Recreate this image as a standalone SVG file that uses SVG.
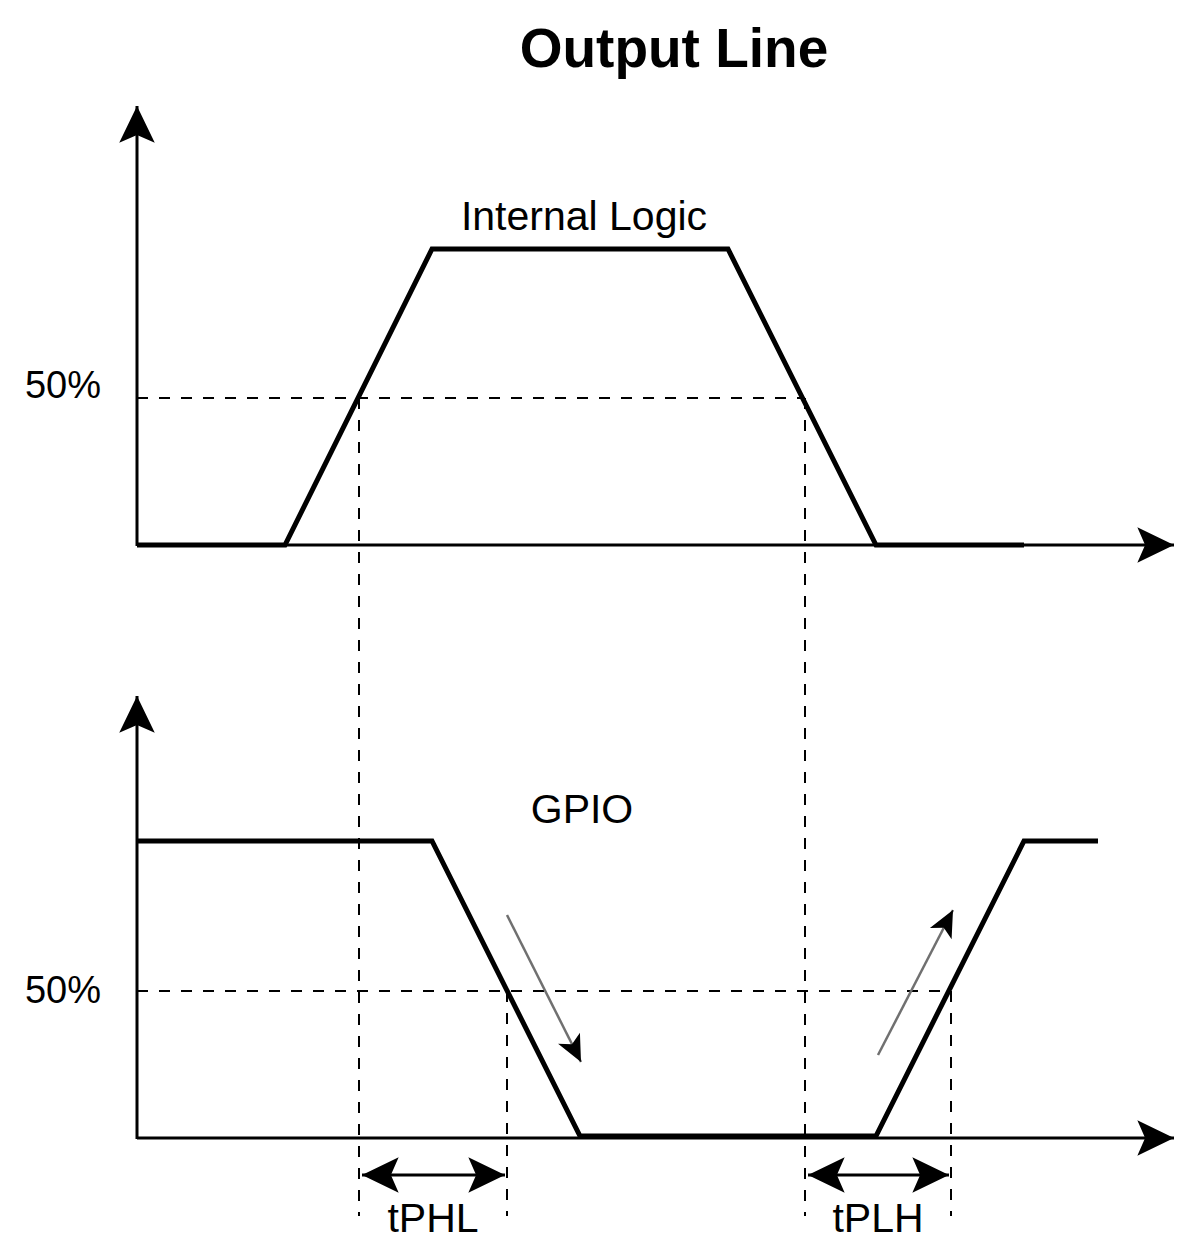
<svg xmlns="http://www.w3.org/2000/svg" width="1204" height="1260" viewBox="0 0 1204 1260">
<style>
.axis{stroke:#000;stroke-width:3;fill:none}
.wave{stroke:#000;stroke-width:5;fill:none;stroke-linejoin:miter}
.dash{stroke:#000;stroke-width:2;fill:none;stroke-dasharray:11 11}
.hint{stroke:#707070;stroke-width:2.5;fill:none}
.lbl{font-family:"Liberation Sans",Arial,sans-serif;fill:#000}
</style>
<defs>
<marker id="big" markerUnits="userSpaceOnUse" markerWidth="40" markerHeight="40" viewBox="-34 -17 36 34" refX="0" refY="0" orient="auto-start-reverse">
<path d="M0,0 L-33,-16 L-26,0 L-33,16 Z" fill="#000"/>
</marker>
<marker id="small" markerUnits="userSpaceOnUse" markerWidth="30" markerHeight="30" viewBox="-25 -13 27 26" refX="0" refY="0" orient="auto">
<path d="M0,0 L-24,-11 L-18,0 L-24,11 Z" fill="#000"/>
</marker>
</defs>
<g id="title"><text class="lbl" x="674" y="67" font-size="55" font-weight="bold" text-anchor="middle">Output Line</text></g>
<g id="connectors">
<line class="axis" x1="137" y1="546" x2="137" y2="106" marker-end="url(#big)"/>
<line class="axis" x1="137" y1="545" x2="1174" y2="545" marker-end="url(#big)"/>
<line class="axis" x1="137" y1="1139" x2="137" y2="696" marker-end="url(#big)"/>
<line class="axis" x1="137" y1="1138" x2="1174" y2="1138" marker-end="url(#big)"/>
<line class="dash" x1="137" y1="398" x2="805" y2="398"/>
<line class="dash" x1="137" y1="991" x2="951" y2="991"/>
<line class="dash" x1="359" y1="398" x2="359" y2="1216"/>
<line class="dash" x1="805" y1="398" x2="805" y2="1216"/>
<line class="dash" x1="507" y1="991" x2="507" y2="1216"/>
<line class="dash" x1="951" y1="991" x2="951" y2="1216"/>
<line class="axis" x1="362" y1="1175" x2="505" y2="1175" marker-start="url(#big)" marker-end="url(#big)"/>
<line class="axis" x1="808" y1="1175" x2="949" y2="1175" marker-start="url(#big)" marker-end="url(#big)"/>
<line class="hint" x1="507" y1="915" x2="581" y2="1062" marker-end="url(#small)"/>
<line class="hint" x1="878" y1="1055" x2="953" y2="910" marker-end="url(#small)"/>
</g>
<g id="internal-logic">
<polyline class="wave" points="137,545 285,545 432,249 728,249 876,545 1024,545"/>
<text class="lbl" x="584" y="230" font-size="41" text-anchor="middle">Internal Logic</text>
</g>
<g id="gpio">
<polyline class="wave" points="137,841 432,841 580,1136 876,1136 1024,841 1098,841"/>
<text class="lbl" x="582" y="823" font-size="41" text-anchor="middle">GPIO</text>
</g>
<g id="label-50-top"><text class="lbl" x="63" y="398" font-size="38" text-anchor="middle">50%</text></g>
<g id="label-50-bottom"><text class="lbl" x="63" y="1003" font-size="38" text-anchor="middle">50%</text></g>
<g id="label-tphl"><text class="lbl" x="433" y="1232" font-size="41" text-anchor="middle">tPHL</text></g>
<g id="label-tplh"><text class="lbl" x="878" y="1232" font-size="41" text-anchor="middle">tPLH</text></g>
</svg>
